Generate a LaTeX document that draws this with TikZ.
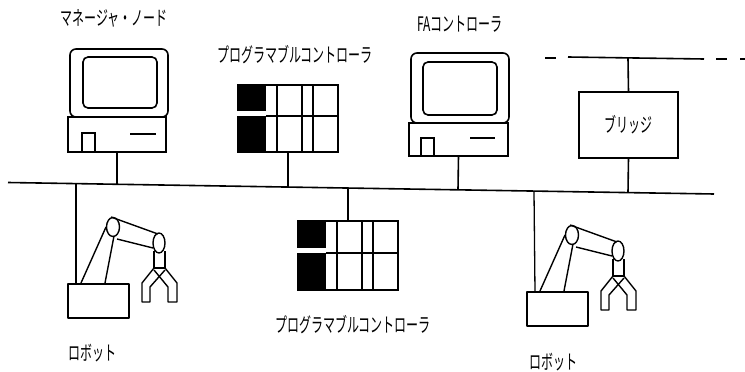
\documentclass[tikz,border=0pt]{standalone}
\usepackage{fontspec}
\newfontfamily\jpfont[FakeStretch=0.6]{Noto Sans CJK JP}
\usetikzlibrary{calc}

\tikzset{
  wire/.style={line width=1.6pt},
  outline/.style={draw, line width=1.6pt, inner sep=0pt, outer sep=0pt},
  lbl/.style={font=\jpfont\fontsize{20}{20}\selectfont, inner sep=0pt},
  pics/plc/.style={code={
    % left column: two black modules
    \fill (0,0) rectangle (28,26);
    \fill (0,31) rectangle (28,67);
    % frame and slot grid
    \draw[line width=1.6pt] (0,26) -- (0,0) -- (100,0) -- (100,67) -- (0,67) -- (0,31);
    \draw[line width=1.6pt] (28,31) -- (100,31);
    \foreach \u in {39,64,75} \draw[line width=1.6pt] (\u,0) -- (\u,67);
    \coordinate (-top) at (50,0);
    \coordinate (-bot) at (50,67);
  }},
  pics/robot/.style={code={
    \begin{scope}[line width=1.4pt, line join=round]
    % base
    \draw[line width=1.6pt] (0,0) rectangle (61,34);
    % lower arm
    \draw (13,-1) -- (38,-57);
    \draw (37,-1) -- (46,-48);
    % shoulder joint
    \draw (45,-57) ellipse [x radius=6.5, y radius=9.5];
    % upper arm
    \draw (43,-67) -- (90,-50);
    \draw (49,-45) -- (85,-36);
    % elbow joint
    \draw (91,-41) ellipse [x radius=6, y radius=10];
    % wrist
    \draw (86,-33) -- (86,-16) -- (97,-16) -- (97,-33);
    % gripper fingers
    \draw (86,-16) -- (74,-1) -- (74,18) -- (82,18) -- (82,3) -- (97,-14);
    \draw (97,-16) -- (109,-1) -- (109,18) -- (100,18) -- (100,3) -- (86,-14);
    \end{scope}
    \coordinate (-top) at (8,0);
  }}
}

\begin{document}
\begin{tikzpicture}[x=1pt, y=-1pt]
\useasboundingbox (0,0) rectangle (745,372);

% ---- main LAN bus ----
\coordinate (busL) at (8,182.5);
\coordinate (busR) at (714,194);
\draw[wire] (busL) -- (busR);
\coordinate (tapMgr)  at (117,184.3);
\coordinate (tapPlcA) at (288,187.1);
\coordinate (tapPlcB) at (348,188.0);
\coordinate (tapFA)   at (458,189.8);
\coordinate (tapBr)   at (628,192.6);
\coordinate (tapRobA) at (76,183.6);
\coordinate (tapRobB) at (534,191.1);

% ---- upper (other) network, dashed at both ends ----
\coordinate (upL) at (568,57);
\coordinate (upR) at (704,59);
\coordinate (upBr) at (628,58);
\draw[wire] (upL) -- (upR);
\draw[wire] (545,58) -- (556,58);
\draw[wire] (716,59) -- (727,59);
\draw[wire] (740,59) -- (745,59);

% ---- manager node ----
\node[outline, rounded corners=6pt, minimum width=98pt, minimum height=68pt] (mgrMon) at (119,83) {};
\node[outline, rounded corners=5pt, minimum width=74pt, minimum height=51pt] (mgrScr) at (120,82.5) {};
\node[outline, minimum width=98pt, minimum height=35pt] (mgrBase) at (117,134.5) {};
\draw[line width=1.3pt] (82,152) -- (82,133) -- (95,133) -- (95,152);
\draw[line width=2.6pt] (130,134) -- (156,134);
\node[lbl] (mgrLbl) at (114,18) {マネージャ・ノード};
\draw[wire] (mgrBase.south) -- (tapMgr);

% ---- FA controller ----
\node[outline, rounded corners=6pt, minimum width=98pt, minimum height=70pt] (faMon) at (460,88) {};
\node[outline, rounded corners=5pt, minimum width=74pt, minimum height=53pt] (faScr) at (460,88.5) {};
\node[outline, minimum width=99pt, minimum height=33pt] (faBase) at (458.5,139.5) {};
\draw[line width=1.3pt] (421,156) -- (421,138) -- (434,138) -- (434,156);
\draw[line width=2.6pt] (470,138) -- (495,138);
\node[lbl] (faLbl) at (460,24) {FAコントローラ};
\draw[wire] (faBase.south) -- (tapFA);

% ---- programmable controllers ----
\pic (plcA) at (238,85) {plc};
\node[lbl] (plcALbl) at (295,55) {プログラマブルコントローラ};
\draw[wire] (plcA-bot) -- (tapPlcA);

\pic[yscale=69/67] (plcB) at (298,221) {plc};
\node[lbl] (plcBLbl) at (353,325) {プログラマブルコントローラ};
\draw[wire] (tapPlcB) -- (plcB-top);

% ---- bridge ----
\node[outline, minimum width=99pt, minimum height=66pt] (bridge) at (628.5,125) {};
\node[lbl] (brLbl) at (628,125) {ブリッジ};
\draw[wire] (upBr) -- (bridge.north);
\draw[wire] (bridge.south) -- (tapBr);

% ---- robots ----
\pic (robA) at (68,284) {robot};
\node[lbl] (robALbl) at (92,353) {ロボット};
\draw[line width=1.3pt] (tapRobA) -- (robA-top);

\pic (robB) at (527,292) {robot};
\node[lbl] (robBLbl) at (553,362) {ロボット};
\draw[line width=1.3pt] (tapRobB) -- (robB-top);
\end{tikzpicture}
\end{document}
